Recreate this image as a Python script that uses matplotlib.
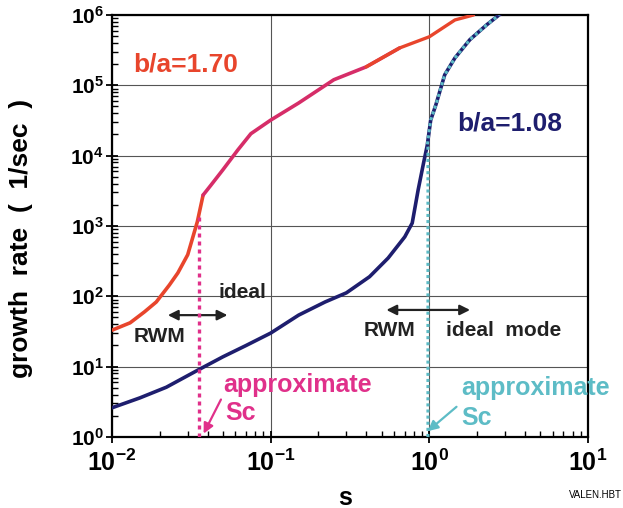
"""
# Growth rate vs s for two wall positions (b/a=1.70 and b/a=1.08)
"""

### Packages
import numpy as np
import matplotlib
matplotlib.use("Agg")
import matplotlib.pyplot as plt
from matplotlib.ticker import FuncFormatter, LogLocator

### Data
# b/a = 1.70 curve
red_s = [0.010, 0.013, 0.016, 0.019, 0.023, 0.026, 0.030, 0.0345, 0.0375, 0.042,
         0.050, 0.062, 0.075, 0.10, 0.15, 0.25, 0.40, 0.65, 1.0, 1.45, 1.9]
red_y = [33, 42, 60, 83, 145, 215, 390, 1150, 2750, 3800,
         6300, 12000, 20500, 32000, 56000, 120000, 183000, 340000, 490000, 850000, 1.0e6]
# b/a = 1.08 curve
blue_s = [0.010, 0.015, 0.022, 0.035, 0.05, 0.07, 0.10, 0.15, 0.22, 0.30, 0.42, 0.55,
          0.70, 0.78, 0.85, 0.92, 0.97, 1.02, 1.1, 1.25, 1.45, 1.8, 2.3, 2.75]
blue_y = [2.6, 3.6, 5.1, 9.0, 13.8, 20, 30, 54, 83, 112, 190, 350,
          700, 1100, 3250, 7900, 14000, 32000, 53000, 141000, 245000, 445000, 725000, 1.0e6]
# approximate critical s for each curve
sc_red = 0.0355
sc_red_top = 1500
sc_blue = 0.98
sc_blue_top = 14000

### Colours
RED = "#e8452c"
PINK = "#d62d68"
MAGENTA = "#e0308a"
NAVY = "#1e1e6e"
CYAN = "#5dbcc6"

plt.rcParams['font.family'] = ['Liberation Sans', 'DejaVu Sans']
plt.rcParams['font.weight'] = 'bold'
plt.rcParams['mathtext.fontset'] = 'custom'
plt.rcParams['mathtext.bf'] = 'Liberation Sans:bold'
plt.rcParams['mathtext.rm'] = 'Liberation Sans:bold'

fig = plt.figure(figsize=(6.23, 5.08), dpi=100)
ax = fig.add_axes([0.1798, 0.1398, 0.9438 - 0.1798, 0.9705 - 0.1398])
ax.set_xscale("log")
ax.set_yscale("log")
ax.set_xlim(0.01, 10)
ax.set_ylim(1, 1e6)

# Grid at decades only
ax.grid(True, which="major", color="#555555", linewidth=0.8)

# Red curve: red below sc, pink in the middle, red again at the top
rs = np.array(red_s)
ry = np.array(red_y)
low = rs <= 0.0375
mid = (rs >= 0.0375) & (rs <= 0.65)
top = rs >= 0.40
ax.plot(rs[low], ry[low], color=RED, lw=2.6, solid_capstyle="round", zorder=3)
ax.plot(rs[mid], ry[mid], color=PINK, lw=2.6, solid_capstyle="round", zorder=3)
ax.plot(rs[top], ry[top], color=RED, lw=2.4, solid_capstyle="round", zorder=3)

# Blue curve
bs = np.array(blue_s)
by = np.array(blue_y)
ax.plot(bs, by, color=NAVY, lw=2.6, zorder=3)

# Dotted markers of approximate sc
ax.plot([sc_red, sc_red], [1, sc_red_top], color=MAGENTA, lw=2.4, ls=(0, (1.2, 1.2)), zorder=4)
cyan_s = [sc_blue, sc_blue] + list(bs[bs >= 0.97])
cyan_y = [1, sc_blue_top] + list(by[bs >= 0.97])
ax.plot(cyan_s, cyan_y, color=CYAN, lw=2.2, ls=(0, (1.0, 1.0)), zorder=4)

# Ticks
fmt = FuncFormatter(lambda v, p: r'$\mathbf{10^{%d}}$' % round(np.log10(v)))
ax.xaxis.set_major_formatter(fmt)
ax.yaxis.set_major_formatter(fmt)
ax.xaxis.set_minor_locator(LogLocator(base=10, subs=np.arange(2, 10)))
ax.yaxis.set_minor_locator(LogLocator(base=10, subs=np.arange(2, 10), numticks=20))
ax.tick_params(which="major", direction="inout", length=8, width=1.3)
ax.tick_params(which="minor", direction="in", length=4, width=1.0)
ax.tick_params(axis="x", which="major", labelsize=18, pad=5)
ax.tick_params(axis="y", which="major", labelsize=15, pad=2)
for sp in ax.spines.values():
    sp.set_linewidth(1.6)

ax.set_xlabel("s", fontsize=18, fontweight="bold")
ax.xaxis.set_label_coords(0.49, -0.115)
ax.set_ylabel("growth  rate  (  1/sec  )", fontsize=19, fontweight="bold")
ax.yaxis.set_label_coords(-0.165, 0.47)

# Curve labels
ax.text(0.0136, 1.95e5, "b/a=1.70", color=RED, fontsize=19, fontweight="bold", va="center")
ax.text(1.51, 2.9e4, "b/a=1.08", color=NAVY, fontsize=19, fontweight="bold", va="center")

# RWM / ideal arrows
arrow = dict(arrowstyle="<|-|>,head_length=0.6,head_width=0.3", color="#222222", lw=1.6)
ax.annotate("", xy=(0.0556, 54), xytext=(0.0216, 54), arrowprops=arrow)
ax.text(0.0468, 112, "ideal", fontsize=15, fontweight="bold", va="center", color="#222222")
ax.text(0.0136, 26.5, "RWM", fontsize=15, fontweight="bold", va="center", color="#222222")
ax.annotate("", xy=(1.88, 64), xytext=(0.515, 64), arrowprops=arrow)
ax.text(0.385, 33, "RWM", fontsize=15, fontweight="bold", va="center", color="#222222")
ax.text(1.27, 33, "ideal  mode", fontsize=15, fontweight="bold", va="center", color="#222222")

# Approximate sc labels
ax.text(0.0502, 5.5, "approximate", color=MAGENTA, fontsize=18, fontweight="bold", va="center")
ax.text(0.0517, 2.19, "Sc", color=MAGENTA, fontsize=18, fontweight="bold", va="center")
ax.annotate("", xy=(0.0371, 1.03), xytext=(0.0495, 3.7),
            arrowprops=dict(arrowstyle="-|>,head_length=0.6,head_width=0.3", color=MAGENTA, lw=1.6))
ax.text(1.58, 4.98, "approximate", color=CYAN, fontsize=18, fontweight="bold", va="center", clip_on=False)
ax.text(1.58, 1.86, "Sc", color=CYAN, fontsize=18, fontweight="bold", va="center")
ax.annotate("", xy=(0.948, 1.14), xytext=(1.53, 2.85),
            arrowprops=dict(arrowstyle="-|>,head_length=0.6,head_width=0.3", color=CYAN, lw=1.6))

fig.text(0.998, 0.015, "VALEN.HBT", fontsize=7, ha="right", va="bottom", fontweight="normal")

plt.savefig("out.png", format="png")
plt.close()
